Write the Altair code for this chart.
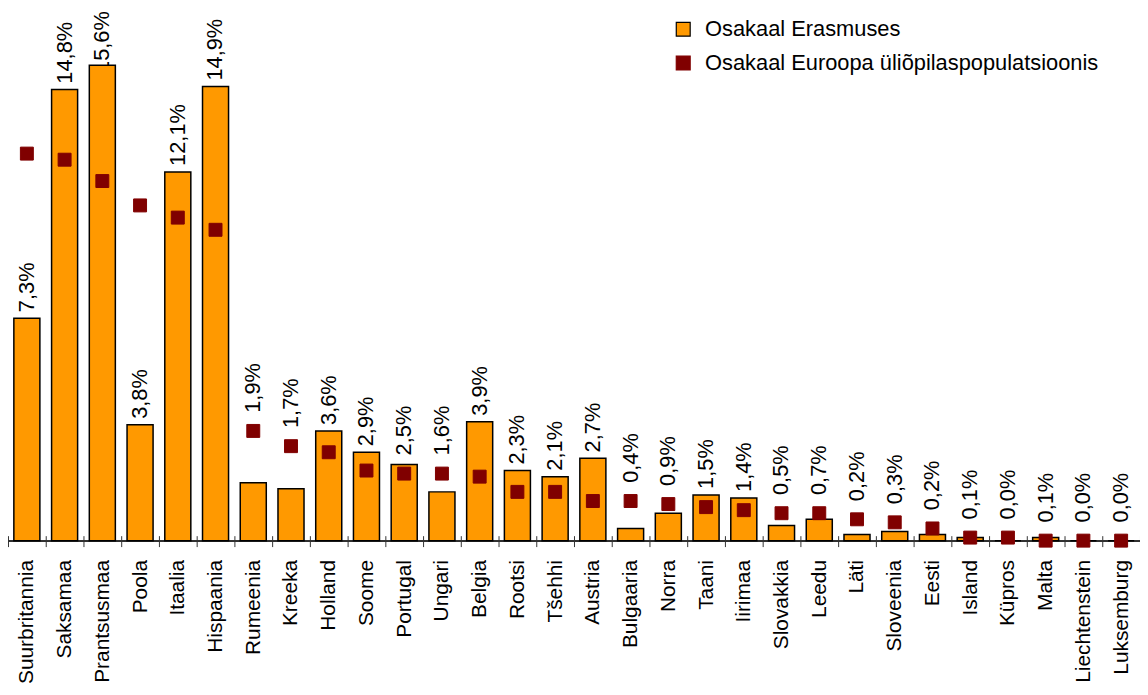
import altair as alt
import pandas as pd

countries = ["Suurbritannia", "Saksamaa", "Prantsusmaa", "Poola", "Itaalia", "Hispaania",
             "Rumeenia", "Kreeka", "Holland", "Soome", "Portugal", "Ungari", "Belgia",
             "Rootsi", "Tšehhi", "Austria", "Bulgaaria", "Norra", "Taani", "Iirimaa",
             "Slovakkia", "Leedu", "Läti", "Sloveenia", "Eesti", "Island", "Küpros",
             "Malta", "Liechtenstein", "Luksemburg"]
erasmus = [7.3, 14.8, 15.6, 3.8, 12.1, 14.9, 1.9, 1.7, 3.6, 2.9, 2.5, 1.6, 3.9,
           2.3, 2.1, 2.7, 0.4, 0.9, 1.5, 1.4, 0.5, 0.7, 0.2, 0.3, 0.2, 0.1, 0.0,
           0.1, 0.0, 0.0]
population = [12.7, 12.5, 11.8, 11.0, 10.6, 10.2, 3.6, 3.1, 2.9, 2.3, 2.2, 2.2, 2.1,
              1.6, 1.6, 1.3, 1.3, 1.2, 1.1, 1.0, 0.9, 0.9, 0.7, 0.6, 0.4, 0.1, 0.1,
              0.0, 0.0, 0.0]
series_names = ["Osakaal Erasmuses", "Osakaal Euroopa üliõpilaspopulatsioonis"]

FONT = "Liberation Sans"

bars_df = pd.DataFrame({
    "country": countries,
    "value": erasmus,
    "pop": population,
    "series": series_names[0],
    "label": [f"{v:.1f}%".replace(".", ",") for v in erasmus],
})
pop_df = pd.DataFrame({
    "country": countries,
    "value": population,
    "series": series_names[1],
})

x_enc = alt.X("country:N", sort=countries, title=None,
              scale=alt.Scale(paddingInner=0, paddingOuter=0),
              axis=alt.Axis(labelAngle=270, labelFontSize=21, labelFont=FONT,
                            labelColor="black", labelPadding=13, tickBand="extent",
                            tickSize=11, offset=-5, domain=False, tickColor="#333",
                            labelAlign="right", labelBaseline="middle"))
y_scale = alt.Scale(domain=[0, 17.4], nice=False)

color_scale = alt.Scale(domain=series_names, range=["#FF9900", "#800000"])
stroke_scale = alt.Scale(domain=series_names, range=["#000000", "#800000"])
legend = alt.Legend(title=None, orient="none", legendX=669, legendY=8,
                    symbolType="square", symbolSize=196, labelFontSize=22,
                    labelFont=FONT, labelColor="black", labelOffset=11,
                    labelLimit=0, rowPadding=12, padding=0, symbolStrokeWidth=1.2)

text = alt.Chart(bars_df).transform_calculate(
    ly="min((datum.pop - datum.value < 2.5) ? max(datum.value, datum.pop + 0.4) : datum.value, 15.15)"
).mark_text(angle=270, align="left", baseline="middle", dx=6, fontSize=22,
            font=FONT, color="black").encode(
    x=x_enc,
    y=alt.Y("ly:Q", scale=y_scale, axis=None),
    text="label:N",
)

baseline = alt.Chart(bars_df).mark_rule(color="#333", strokeWidth=1).encode(
    y=alt.Y(datum=0, scale=y_scale, axis=None),
)

bars = alt.Chart(bars_df).mark_bar(width=alt.RelativeBandSize(0.69), strokeWidth=1.5).encode(
    x=x_enc,
    y=alt.Y("value:Q", scale=y_scale, axis=None),
    color=alt.Color("series:N", scale=color_scale, legend=legend),
    stroke=alt.Stroke("series:N", scale=stroke_scale, legend=legend),
)

squares = alt.Chart(pop_df).mark_square(size=170, filled=True, strokeWidth=1, opacity=1).encode(
    x=x_enc,
    y=alt.Y("value:Q", scale=y_scale, axis=None),
    color=alt.Color("series:N", scale=color_scale, legend=legend),
    stroke=alt.Stroke("series:N", scale=stroke_scale, legend=legend),
)

chart = alt.layer(text, baseline, bars, squares).properties(
    width=1140, height=534,
    padding={"left": 0, "top": 0, "right": 0, "bottom": 145},
    autosize=alt.AutoSizeParams(type="none"),
).configure_view(stroke=None).configure_axis(grid=False)

chart.save("out.html", embed_options={"renderer": "svg", "actions": False})
